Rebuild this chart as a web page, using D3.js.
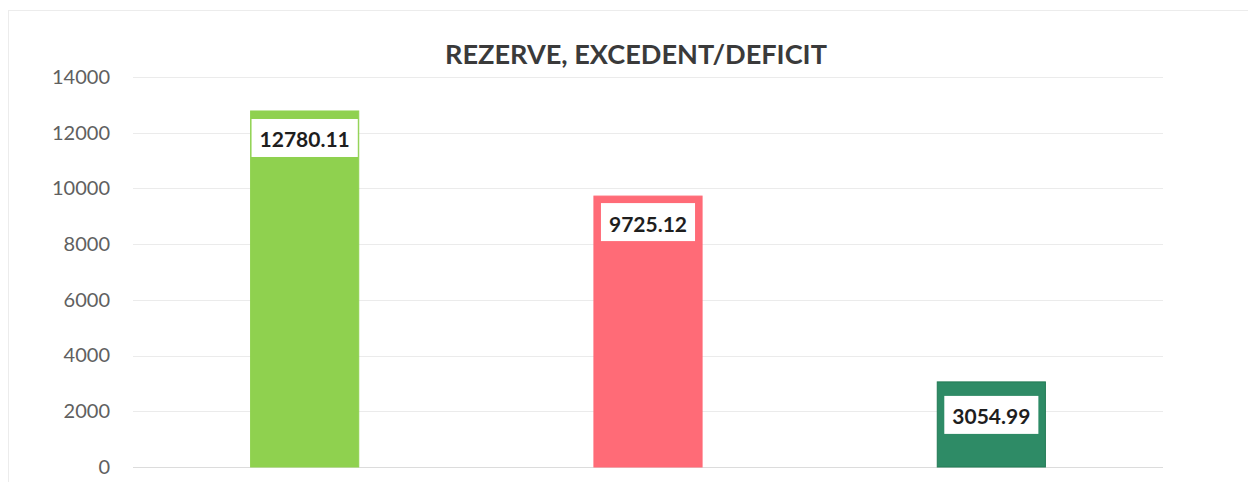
<!DOCTYPE html>
<html>
<head>
<meta charset="utf-8">
<script src="https://cdn.jsdelivr.net/npm/d3@7"></script>
<style>
  html, body { margin: 0; padding: 0; background: #ffffff; }
  svg { display: block; }
</style>
</head>
<body>
<svg id="chart" width="1248" height="482"></svg>
<script>
// ---- data ----
const categories = ["Rezerve", "Excedent", "Deficit"];
const values = [12780.11, 9725.12, 3054.99];
const labels = ["12780.11", "9725.12", "3054.99"];
const yTicks = [0, 2000, 4000, 6000, 8000, 10000, 12000, 14000];
const title = "REZERVE, EXCEDENT/DEFICIT";

// ---- styles ----
const colors = ["#8fd14f", "#ff6b77", "#2e8b66"];
const strokes = ["#8fd14f", "#ff6b77", "#237a55"];
const labelOffsets = [8, 7, 14];

const svg = d3.select("#chart");
const W = 1248, H = 482;
const plot = { left: 133, right: 1163, top: 77, bottom: 467 };

// chart border
svg.append("rect")
  .attr("x", 8.5).attr("y", 10.5)
  .attr("width", W + 10).attr("height", H + 10)
  .attr("fill", "none").attr("stroke", "#ececec").attr("stroke-width", 1);

const x = d3.scaleBand()
  .domain(categories)
  .range([plot.left, plot.right])
  .paddingInner(0.685)
  .paddingOuter(0.685 / 2);

const y = d3.scaleLinear()
  .domain([0, 14000])
  .range([plot.bottom, plot.top]);

// gridlines
svg.append("g").selectAll("line")
  .data(yTicks)
  .join("line")
  .attr("x1", plot.left).attr("x2", plot.right)
  .attr("y1", d => Math.round(y(d)) + 0.5).attr("y2", d => Math.round(y(d)) + 0.5)
  .attr("stroke", d => d === 0 ? "#dcdcdc" : "#ebebeb")
  .attr("stroke-width", 1);

// y axis (labels only)
const yAxis = d3.axisLeft(y).tickValues(yTicks).tickSize(0).tickPadding(0)
  .tickFormat(d3.format("d"));
const gy = svg.append("g")
  .attr("transform", `translate(110,0)`)
  .call(yAxis);
gy.select(".domain").remove();
gy.selectAll("text")
  .attr("font-family", "Lato, 'Open Sans', sans-serif")
  .attr("font-size", 20)
  .attr("fill", "#606060");

// bars
svg.append("g").selectAll("rect")
  .data(values)
  .join("rect")
  .attr("x", (d, i) => x(categories[i]))
  .attr("width", x.bandwidth())
  .attr("y", d => y(d))
  .attr("height", d => y(0) - y(d))
  .attr("fill", (d, i) => colors[i])
  .attr("stroke", (d, i) => strokes[i])
  .attr("stroke-width", 1);

// data labels
const lg = svg.append("g");
values.forEach((v, i) => {
  const cx = x(categories[i]) + x.bandwidth() / 2;
  const g = lg.append("g");
  const t = g.append("text")
    .attr("x", cx)
    .attr("text-anchor", "middle")
    .attr("dominant-baseline", "central")
    .attr("font-family", "Lato, 'Open Sans', sans-serif")
    .attr("font-weight", "bold")
    .attr("font-size", 21)
    .attr("fill", "#1e1e1e")
    .text(labels[i]);
  const tw = t.node().getComputedTextLength();
  const boxH = 38;
  const top = y(v) + labelOffsets[i];
  t.attr("y", top + boxH / 2 + 1);
  g.insert("rect", "text")
    .attr("x", cx - tw / 2 - 8)
    .attr("y", top)
    .attr("width", tw + 16)
    .attr("height", boxH)
    .attr("fill", "#ffffff");
});

// title
const tt = svg.append("text")
  .attr("x", 636)
  .attr("y", 53)
  .attr("text-anchor", "middle")
  .attr("dominant-baseline", "central")
  .attr("font-family", "Lato, 'Open Sans', sans-serif")
  .attr("font-weight", "bold")
  .attr("font-size", 22)
  .attr("fill", "#3a3a3a")
  .text(title);
const tw0 = tt.node().getComputedTextLength();
tt.attr("font-size", 22 * 382 / tw0);
</script>
</body>
</html>
